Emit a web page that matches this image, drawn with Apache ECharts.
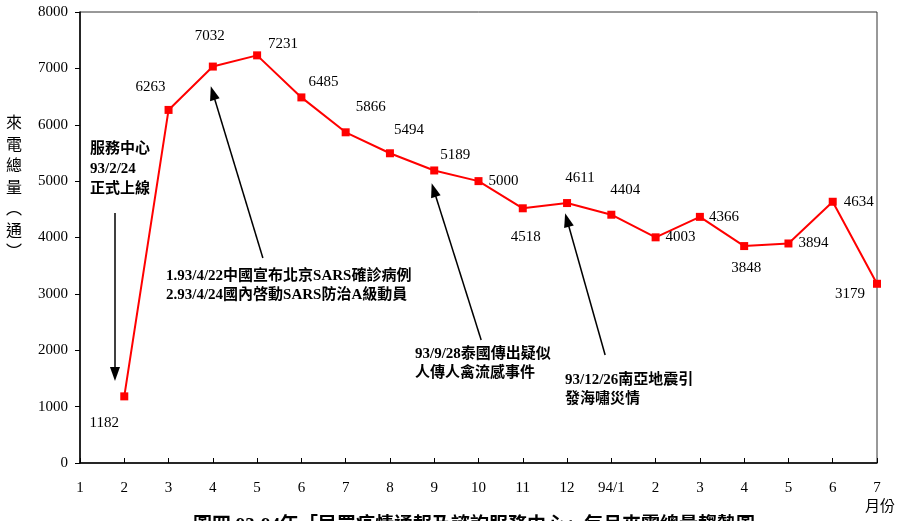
<!DOCTYPE html>
<html><head><meta charset="utf-8">
<script src="https://cdn.jsdelivr.net/npm/echarts@6/dist/echarts.min.js"></script>
<style>html,body{margin:0;padding:0;background:#fff}#c{width:905px;height:521px}</style>
</head><body><div id="c"></div>
<script>
const monthLabels = ['1','2','3','4','5','6','7','8','9','10','11','12','94/1','2','3','4','5','6','7'];
const callValues = [null,1182,6263,7032,7231,6485,5866,5494,5189,5000,4518,4611,4404,4003,4366,3848,3894,4634,3179];
const yTicks = [0,1000,2000,3000,4000,5000,6000,7000,8000];
// annotation arrows in data coordinates [x-index, value]
const arrows = [
  [[0.79,4435],[0.79,1579]],
  [[4.13,3636],[3.00,6563]],
  [[9.06,2182],[7.99,4842]],
  [[11.86,1916],[11.00,4310]]
];
const notes = [
  ['服務中心','93/2/24','正式上線'],
  ['1.93/4/22中國宣布北京SARS確診病例','2.93/4/24國內啓動SARS防治A級動員'],
  ['93/9/28泰國傳出疑似','人傳人禽流感事件'],
  ['93/12/26南亞地震引','發海嘯災情']
];
const titleText = '圖四 93-94年「民眾疫情通報及諮詢服務中心」每月來電總量趨勢圖';
const yName = '來電總量︵通︶';

// label offsets (style)
const labelOffsets = [null,[-20,27],[-18,-23],[-3,-31],[26,-11],[22,-15],[25,-25],[19,-23],[21,-15],[25,0],[3,29],[13,-25],[14,-25],[25,0],[24,0],[2,22],[25,0],[26,0],[-27,10]];
const notePos = [[90,142,20],[166,269,19],[415,347,19],[565,373,19]];

const SERIF = "'Liberation Serif','Noto Sans CJK TC',serif";
const chart = echarts.init(document.getElementById('c'));
const seriesData = [];
callValues.forEach((v,i)=>{
  if(v==null) return;
  seriesData.push({value:[i,v],label:{show:true,position:'inside',offset:labelOffsets[i]}});
});
const graphics = [];
notes.forEach((lines,k)=>{
  const p = notePos[k];
  lines.forEach((t,j)=>{
    graphics.push({type:'text',left:p[0],top:p[1]+j*p[2],style:{text:t,fill:'#000',font:"bold 15px 'Liberation Serif','Noto Sans CJK TC',serif"}});
  });
});
yName.split('').forEach((ch,j)=>{
  graphics.push({type:'text',left:6,top:114+j*21.5,style:{text:ch,fill:'#000',font:"16px 'Noto Sans CJK TC',sans-serif"}});
});
graphics.push({type:'text',left:865,top:498,style:{text:'月份',fill:'#000',font:"15px 'Noto Sans CJK TC',sans-serif"}});
graphics.push({type:'text',left:193,top:517,style:{text:titleText,fill:'#000',font:"bold 19px 'Liberation Serif','Noto Sans CJK TC',serif"}});

chart.setOption({
  animation:false,
  backgroundColor:'#fff',
  grid:{left:80,right:28,top:12,bottom:58,show:true,borderColor:'#333',borderWidth:1},
  xAxis:{type:'value',min:0,max:18,interval:1,
    axisLine:{show:true,onZero:false,lineStyle:{color:'#000',width:1.5}},
    axisTick:{show:true,inside:true,length:5,lineStyle:{color:'#000'}},
    splitLine:{show:false},
    axisLabel:{margin:18,color:'#000',fontSize:15,fontFamily:SERIF,formatter:v=>monthLabels[v]}},
  yAxis:{type:'value',min:yTicks[0],max:yTicks[yTicks.length-1],interval:1000,
    axisLine:{show:true,lineStyle:{color:'#000',width:1.5}},
    axisTick:{show:true,length:5,lineStyle:{color:'#000'}},
    splitLine:{show:false},
    axisLabel:{margin:12,color:'#000',fontSize:15,fontFamily:SERIF,formatter:v=>String(v)}},
  series:[{
    type:'line',data:seriesData,
    lineStyle:{color:'#ff0000',width:2},
    itemStyle:{color:'#ff0000'},
    symbol:'rect',symbolSize:8,
    label:{color:'#000',fontSize:15,fontFamily:SERIF},
    markLine:{silent:true,symbol:['none','triangle'],symbolSize:[10,14],
      lineStyle:{color:'#000',width:1.5,type:'solid'},label:{show:false},
      data:arrows.map(a=>[{coord:a[0]},{coord:a[1]}])}
  }],
  graphic:graphics
});
</script></body></html>
